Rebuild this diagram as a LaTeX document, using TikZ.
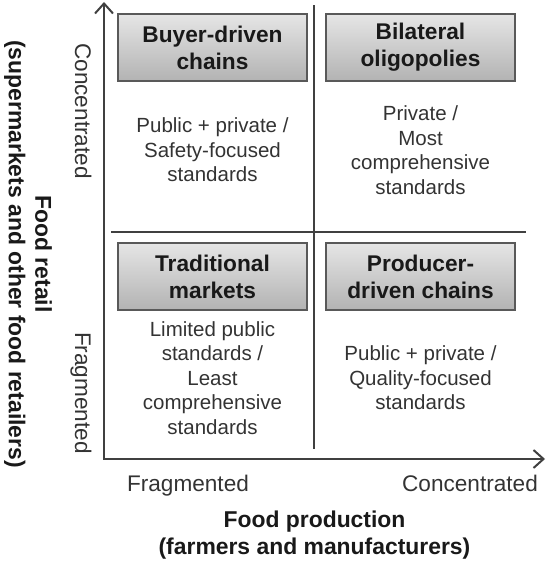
\documentclass[tikz,border=0pt]{standalone}
\usepackage{fontspec}
\setmainfont{Liberation Sans}
\usepackage{tikz}
\usetikzlibrary{arrows.meta, positioning, shadows}

\begin{document}
\begin{tikzpicture}[x=0.5pt, y=-0.5pt,
		quadrant/.style={draw=black!65, line width=1pt, top color=black!10, bottom color=black!30,
			minimum width=94.5pt, minimum height=33.5pt, inner sep=0pt, outer sep=0pt, align=center,
			font=\fontsize{11.35}{13.5}\selectfont\bfseries, text=black!90,
			drop shadow={shadow xshift=0.6pt, shadow yshift=-0.6pt, opacity=0.3}},
		note/.style={align=center, font=\fontsize{10.25}{12.25}\selectfont, text=black!80},
		level/.style={anchor=base, font=\fontsize{11.3}{13}\selectfont, text=black!80},
		title/.style={align=center, font=\fontsize{11.45}{13.2}\selectfont\bfseries, text=black!90},
		axis/.style={draw=black!75, line width=1pt, {Straight Barb[length=5pt, width=9pt]}-{Straight Barb[length=5pt, width=9pt]}},
		divider/.style={draw=black!75, line width=0.8pt}]
		\useasboundingbox (0,0) rectangle (546,562);

		\coordinate (origin) at (104,459);
		\coordinate (ytop) at (104,2);
		\coordinate (xend) at (545,459);
		\coordinate (vtop) at (314,5);
		\coordinate (vbot) at (314,449);
		\coordinate (hleft) at (111,232);
		\coordinate (hright) at (526,232);

		\node (buyer) [quadrant] at (212.5,47.5) {Buyer-driven\\chains};
		\node (bilateral) [quadrant, right = 9.5pt of buyer] {Bilateral\\oligopolies};
		\node (traditional) [quadrant, below = 81pt of buyer] {Traditional\\markets};
		\node (producer) [quadrant, right = 9.5pt of traditional] {Producer-\\driven chains};

		\node (buyertext) [note] at (212.5,150) {Public + private /\\Safety-focused\\standards};
		\node (bilateraltext) [note] at (420.5,150) {Private /\\Most\\comprehensive\\standards};
		\node (traditionaltext) [note] at (212.5,378) {Limited public\\standards /\\Least\\comprehensive\\standards};
		\node (producertext) [note] at (420.5,378) {Public + private /\\Quality-focused\\standards};

		\node (xlow) [level] at (188,491) {Fragmented};
		\node (xhigh) [level] at (470,491) {Concentrated};
		\node (ylow) [level, rotate=-90] at (75,393) {Fragmented};
		\node (yhigh) [level, rotate=-90] at (75,111) {Concentrated};
		\node (xtitle) [title] at (314.5,535) {Food production\\(farmers and manufacturers)};
		\node (ytitle) [title, rotate=-90] at (28,254) {Food retail\\(supermarkets and other food retailers)};

		\path [divider]
		(vtop) edge (vbot)
		(hleft) edge (hright)
		;
		\draw [axis] (ytop) -- (origin) -- (xend);
	\end{tikzpicture}
\end{document}
